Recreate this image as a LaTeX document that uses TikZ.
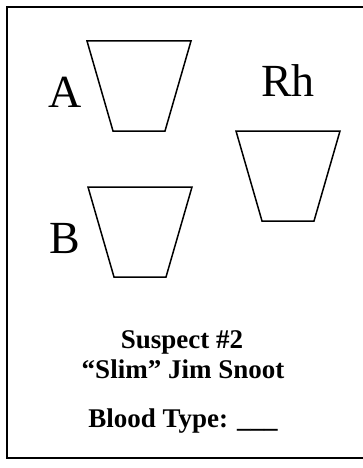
\documentclass[tikz,border=0pt]{standalone}
\usepackage{fontspec}
\setmainfont{Liberation Serif}
\usetikzlibrary{positioning}

\begin{document}
\begin{tikzpicture}[
    x=1pt, y=-1pt,
    cup/.style={draw, line width=1.5pt, line join=miter},
    frame/.style={draw, line width=1.1pt},
    typelabel/.style={font=\fontsize{46}{48}\selectfont, anchor=base, inner sep=0pt},
    cardtext/.style={font=\fontsize{27}{30}\selectfont\bfseries, anchor=base, inner sep=0pt},
]
\useasboundingbox (0,0) rectangle (363,468);

% card border (right side runs off the page)
\draw[frame] (364,7) -- (7,7) -- (7,458) -- (364,458);

% the three test cups: top centre x/y
\foreach \cx/\cy in {139/41, 288/131, 140/187}{
    \draw[cup] (\cx-52,\cy) -- (\cx+52,\cy) -- (\cx+26,\cy+90) -- (\cx-26,\cy+90) -- cycle;
}

\node[typelabel] (labA) at (65,108) {A};
\node[typelabel] (labRh) at (288,97) {Rh};
\node[typelabel] (labB) at (65,253) {B};

\node[cardtext] (suspect) at (182,348) {Suspect \#2};
\node[cardtext] (alias) at (183,378) {``Slim'' Jim Snoot};
\node[cardtext] (blood) at (183,427) {Blood Type: \_\_\_};

\end{tikzpicture}
\end{document}
